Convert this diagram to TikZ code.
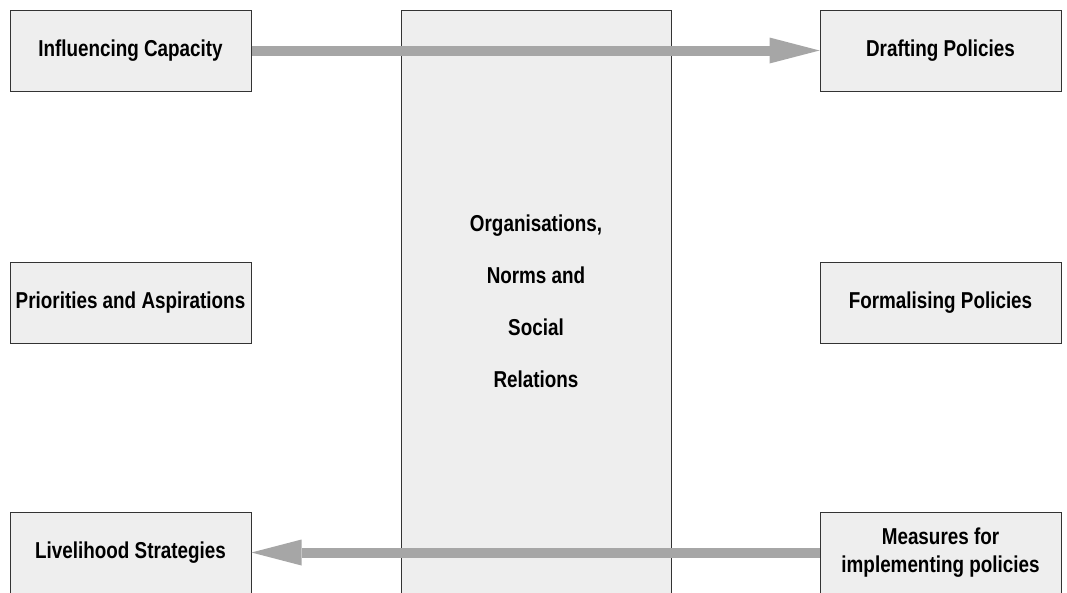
\documentclass[tikz,border=0pt]{standalone}
\usepackage{fontspec}
\setmainfont{Liberation Sans}[FakeStretch=0.82]
\usetikzlibrary{arrows.meta}
\definecolor{boxfill}{HTML}{EEEEEE}
\definecolor{boxline}{HTML}{333333}
\definecolor{flow}{HTML}{A6A6A6}
\begin{document}
\begin{tikzpicture}[x=1pt,y=-1pt,
  box/.style={draw=boxline,line width=1pt,fill=boxfill,minimum width=241pt,minimum height=81pt,
    inner sep=0pt,align=center,font=\fontsize{23}{28}\selectfont\bfseries},
  flowarrow/.style={draw=flow,line width=10pt,
    -{Triangle[length=50pt,width=26pt,line width=0pt,fill=flow]}}]
\clip (0,0) rectangle (1067,592);
% left column
\node[box] (ic) at (130.5,50.5) {Influencing Capacity};
\node[box] (pa) at (130.5,302.5) {Priorities and Aspirations};
\node[box] (ls) at (130.5,552.5) {Livelihood Strategies};
% right column
\node[box] (dp) at (940.5,50.5) {Drafting Policies};
\node[box] (fp) at (940.5,302.5) {Formalising Policies};
\node[box] (mi) at (940.5,552.5) {Measures for\\implementing policies};
% central column
\node[box,minimum width=270pt,minimum height=583pt,
  font=\fontsize{23}{52}\selectfont\bfseries] (on) at (536,301.5)
  {Organisations,\\Norms and\\Social\\Relations};
% flows
\draw[flowarrow] (ic.east) -- (dp.west);
\draw[flowarrow] (mi.west) -- (ls.east);
\end{tikzpicture}
\end{document}
